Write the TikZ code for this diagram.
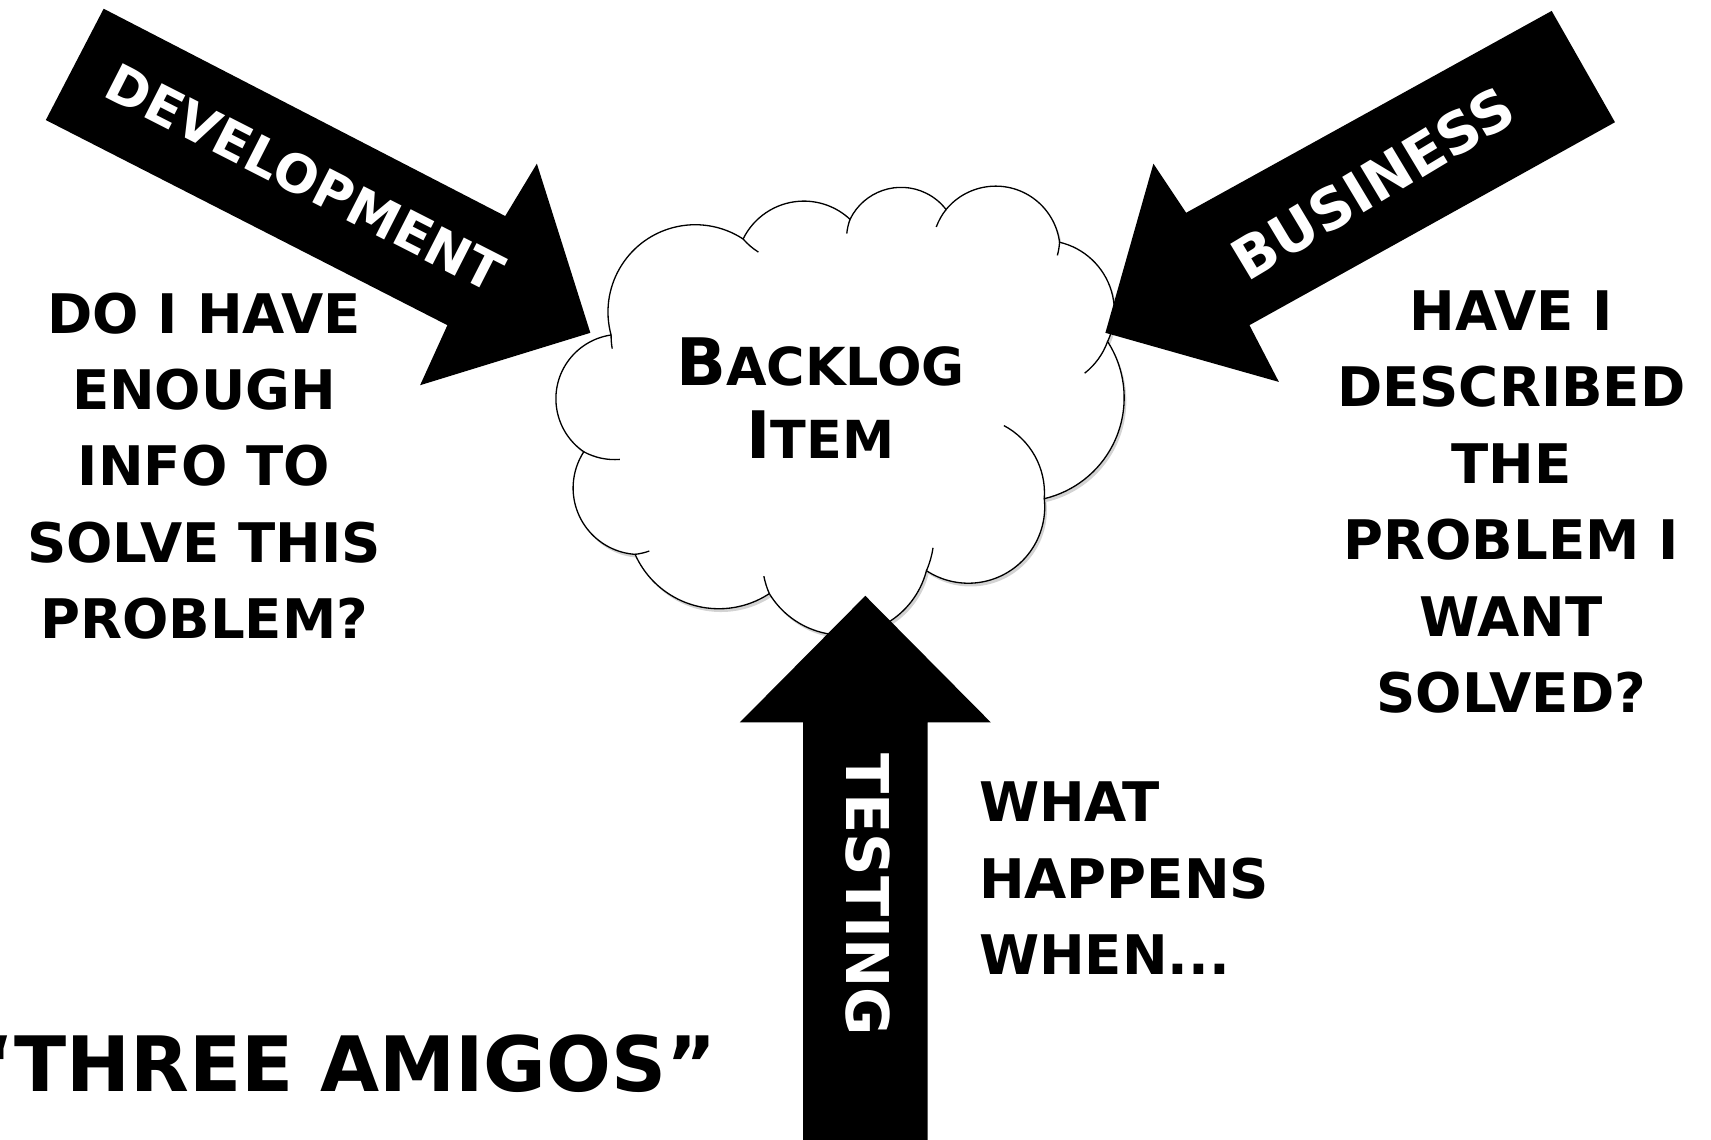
\documentclass[tikz,border=0pt]{standalone}
\usepackage{fontspec}
\setmainfont{DejaVu Sans}
\usetikzlibrary{svg.path,shadows}
\tikzset{
  blockarrow/.style={fill=black},
  arrowlabel/.style={text=white,font=\bfseries,inner sep=0pt},
  question/.style={align=center,font=\fontsize{50}{70}\selectfont\bfseries,inner sep=0pt},
  cloudline/.style={draw=black,line width=1.2pt},
  cloudbody/.style={cloudline,fill=white,drop shadow={shadow xshift=2pt,shadow yshift=-3pt,opacity=0.35}}
}
\begin{document}
\begin{tikzpicture}[x=1pt,y=-1pt]
\useasboundingbox (0,0) rectangle (1568,1044);
% cloud
\begin{scope}[yscale=-1]
\path[cloudbody] svg {M 560 307
 A 80 80 0 0 1 681 219
 A 62 62 0 0 1 779 201
 A 52 52 0 0 1 867 192
 A 59 59 0 0 1 971 222
 A 65 65 0 0 1 1015 313
 A 95 95 0 0 1 957 457
 A 70 70 0 0 1 849 523
 A 79 79 0 0 1 705 544
 A 84 84 0 0 1 582 508
 A 61 61 0 0 1 535 414
 A 59 59 0 0 1 560 307 Z};
\path[cloudline] svg {M 560 307 A 80 80 0 0 0 561 319
 M 681 219 A 62 62 0 0 0 695 231
 M 779 201 A 52 52 0 0 0 776 214
 M 867 192 A 59 59 0 0 0 858 208
 M 971 222 A 59 59 0 0 1 969 234
 M 1015 313 A 65 65 0 0 1 994 342
 M 957 457 A 70 70 0 0 0 920 390
 M 849 523 A 79 79 0 0 0 855 502
 M 705 544 A 79 79 0 0 1 700 528
 M 582 508 A 61 61 0 0 0 595 505
 M 535 414 A 59 59 0 0 0 568 421};
\end{scope}
\node[inner sep=0pt,align=center,font=\bfseries] (item) at (752,365)
  {\fontsize{60}{60}\selectfont B\fontsize{48}{48}\selectfont ACKLOG\\[22pt]\fontsize{60}{60}\selectfont I\fontsize{48}{48}\selectfont TEM};
% development arrow
\fill[blockarrow] (95,8) -- (463,198) -- (492,150) -- (541,305) -- (385,353) -- (410,298) -- (42,110) -- cycle;
\node[arrowlabel,rotate=-27,font=\fontsize{48}{48}\selectfont\bfseries] (dev) at (280,163) {DEVELOPMENT};
% business arrow
\fill[blockarrow] (1422,10) -- (1087,195) -- (1057,150) -- (1013,305) -- (1172,350) -- (1145,298) -- (1480,112) -- cycle;
\node[arrowlabel,rotate=31,font=\fontsize{52}{52}\selectfont\bfseries] (bus) at (1258,168) {BUSINESS};
% testing arrow
\fill[blockarrow] (736,1050) -- (736,662) -- (678,662) -- (793,546) -- (908,662) -- (850,662) -- (850,1050) -- cycle;
\node[arrowlabel,rotate=-90,font=\fontsize{54}{54}\selectfont\bfseries] (test) at (795,820) {TESTING};
% questions
\node[question] (devq) at (187,427) {DO I HAVE\\ENOUGH\\INFO TO\\SOLVE THIS\\PROBLEM?};
\node[question] (busq) at (1385,460) {HAVE I\\DESCRIBED\\THE\\PROBLEM I\\WANT\\SOLVED?};
\node[question,align=left,anchor=west] (testq) at (897,805) {WHAT\\HAPPENS\\WHEN...};
\node[inner sep=0pt,anchor=west,font=\fontsize{70}{70}\selectfont\bfseries] (title) at (-33,975) {“THREE AMIGOS”};
\end{tikzpicture}
\end{document}
